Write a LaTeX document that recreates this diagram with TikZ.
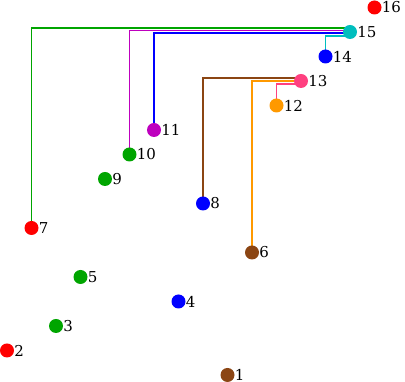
\documentclass[tikz,border=0pt]{standalone}
\usepackage{fontspec}
\setmainfont{DejaVu Serif}
\usetikzlibrary{calc}

\definecolor{dred}{RGB}{255,0,0}
\definecolor{dgreen}{RGB}{0,165,0}
\definecolor{dblue}{RGB}{0,0,255}
\definecolor{dbrown}{RGB}{139,69,19}
\definecolor{dorange}{RGB}{255,153,0}
\definecolor{dpink}{RGB}{255,64,128}
\definecolor{dteal}{RGB}{0,190,190}
\definecolor{dmagenta}{RGB}{190,0,190}

\tikzset{
    dot/.style={circle, fill=#1, inner sep=0pt, minimum size=14pt,
        label distance=4pt},
    every label/.style={inner sep=0pt, font=\fontsize{15}{16}\selectfont},
    link/.style={draw=#1, line width=1.8pt}
}

\begin{document}
\begin{tikzpicture}[x=24.5pt, y=24.5pt]
    \useasboundingbox (-7pt,-7pt) rectangle (398pt,375pt);

    %place points
        \coordinate (P1) at (9,0);
        \coordinate (P2) at (0,1);
        \coordinate (P3) at (2,2);
        \coordinate (P4) at (7,3);
        \coordinate (P5) at (3,4);
        \coordinate (P6) at (10,5);
        \coordinate (P7) at (1,6);
        \coordinate (P8) at (8,7);
        \coordinate (P9) at (4,8);
        \coordinate (P10) at (5,9);
        \coordinate (P11) at (6,10);
        \coordinate (P12) at (11,11);
        \coordinate (P13) at (12,12);
        \coordinate (P14) at (13,13);
        \coordinate (P15) at (14,14);
        \coordinate (P16) at (15,15);

    %links into 15
        \draw[link=dgreen] (P7) |- ($(P15)+(0,4pt)$);
        \draw[link=dmagenta] (P10) |- ($(P15)+(0,1.5pt)$);
        \draw[link=dblue] (P11) |- ($(P15)+(0,-0.8pt)$);
        \draw[link=dteal] (P14) |- ($(P15)+(0,-4pt)$);

    %links into 13
        \draw[link=dbrown] (P8) |- ($(P13)+(0,3pt)$);
        \draw[link=dorange] (P6) |- (P13);
        \draw[link=dpink] (P12) |- ($(P13)+(0,-3pt)$);

    %draw dots
        \node[dot=dbrown, label=right:1] (N1) at (P1) {};
        \node[dot=dred, label=right:2] (N2) at (P2) {};
        \node[dot=dgreen, label=right:3] (N3) at (P3) {};
        \node[dot=dblue, label=right:4] (N4) at (P4) {};
        \node[dot=dgreen, label=right:5] (N5) at (P5) {};
        \node[dot=dbrown, label=right:6] (N6) at (P6) {};
        \node[dot=dred, label=right:7] (N7) at (P7) {};
        \node[dot=dblue, label=right:8] (N8) at (P8) {};
        \node[dot=dgreen, label=right:9] (N9) at (P9) {};
        \node[dot=dgreen, label=right:10] (N10) at (P10) {};
        \node[dot=dmagenta, label=right:11] (N11) at (P11) {};
        \node[dot=dorange, label=right:12] (N12) at (P12) {};
        \node[dot=dpink, label=right:13] (N13) at (P13) {};
        \node[dot=dblue, label=right:14] (N14) at (P14) {};
        \node[dot=dteal, label=right:15] (N15) at (P15) {};
        \node[dot=dred, label=right:16] (N16) at (P16) {};

\end{tikzpicture}
\end{document}
